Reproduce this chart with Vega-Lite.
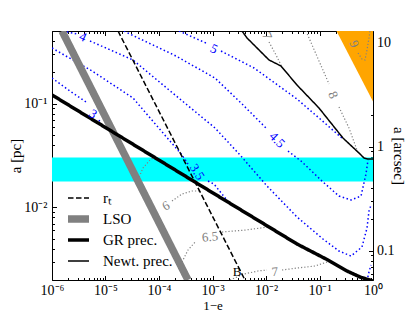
{
  "$schema": "https://vega.github.io/schema/vega-lite/v6.json",
  "width": 321,
  "height": 249,
  "autosize": {"type": "none"},
  "padding": {"left": 52, "top": 31, "right": 42, "bottom": 32},
  "background": "white",
  "config": {
    "view": {"stroke": null},
    "axis": {"grid": false, "domainColor": "#000", "domainWidth": 1, "tickColor": "#000", "tickWidth": 1, "labelColor": "#000", "titleColor": "#000", "labelFont": "Liberation Serif", "titleFont": "Liberation Serif", "labelFontSize": 14, "titleFontSize": 15, "titleFontWeight": "normal", "labelFlush": false, "labelOverlap": false, "labelBound": false}
  },
  "datasets": {
    "band": [{"x": 1e-6, "x2": 1, "y": 0.01778, "y2": 0.03027}],
    "orange": [{"x": 0.208, "y": 0.5, "y2": 0.5}, {"x": 1, "y": 0.1047, "y2": 0.5}],
    "lines": [
      {"series": "rₜ", "x": 1.714e-5, "y": 0.5},
      {"series": "rₜ", "x": 4.046e-3, "y": 0.002},
      {"series": "LSO", "x": 1.538e-6, "y": 0.5},
      {"series": "LSO", "x": 3.483e-4, "y": 0.002},
      {"series": "GR prec.", "x": 1e-6, "y": 0.1211},
      {"series": "GR prec.", "x": 1.021e-3, "y": 0.01377},
      {"series": "GR prec.", "x": 0.03793, "y": 0.004446},
      {"series": "GR prec.", "x": 0.1442, "y": 0.003112},
      {"series": "GR prec.", "x": 0.3266, "y": 0.002443},
      {"series": "GR prec.", "x": 0.5715, "y": 0.002138},
      {"series": "GR prec.", "x": 1, "y": 0.001954},
      {"series": "Newt. prec.", "x": 3.556e-3, "y": 0.5},
      {"series": "Newt. prec.", "x": 4.416e-3, "y": 0.4285},
      {"series": "Newt. prec.", "x": 0.01138, "y": 0.263},
      {"series": "Newt. prec.", "x": 0.01905, "y": 0.2301},
      {"series": "Newt. prec.", "x": 0.03793, "y": 0.151},
      {"series": "Newt. prec.", "x": 0.09795, "y": 0.09057},
      {"series": "Newt. prec.", "x": 0.2748, "y": 0.04656},
      {"series": "Newt. prec.", "x": 0.547, "y": 0.03342},
      {"series": "Newt. prec.", "x": 0.6792, "y": 0.02992},
      {"series": "Newt. prec.", "x": 0.8072, "y": 0.02924},
      {"series": "Newt. prec.", "x": 1, "y": 0.02924}
    ],
    "blue": [
      {"seg": "3a", "x": 1e-6, "y": 0.1762},
      {"seg": "3a", "x": 2.168e-6, "y": 0.1321},
      {"seg": "3a", "x": 4.325e-6, "y": 0.1036},
      {"seg": "3b", "x": 7.568e-6, "y": 0.0695},
      {"seg": "3b", "x": 8.24e-6, "y": 0.0635},
      {"seg": "35a", "x": 1e-6, "y": 0.3428},
      {"seg": "35a", "x": 5.598e-6, "y": 0.2061},
      {"seg": "35a", "x": 3.266e-5, "y": 0.1132},
      {"seg": "35a", "x": 9.183e-5, "y": 0.06081},
      {"seg": "35a", "x": 2.692e-4, "y": 0.03199},
      {"seg": "35a", "x": 3.483e-4, "y": 0.02618},
      {"seg": "35b", "x": 8.24e-4, "y": 0.01795},
      {"seg": "35b", "x": 1.067e-3, "y": 0.01679},
      {"seg": "35b", "x": 1.786e-3, "y": 0.01205},
      {"seg": "35c", "x": 0.7727, "y": 0.001954},
      {"seg": "35c", "x": 0.8414, "y": 0.002388},
      {"seg": "35c", "x": 0.9183, "y": 0.002786},
      {"seg": "4a", "x": 1.607e-6, "y": 0.5},
      {"seg": "4a", "x": 2.931e-6, "y": 0.4677},
      {"seg": "4b", "x": 5.129e-6, "y": 0.4009},
      {"seg": "4b", "x": 3.266e-5, "y": 0.263},
      {"seg": "4b", "x": 1.991e-4, "y": 0.1211},
      {"seg": "4b", "x": 1.114e-3, "y": 0.05821},
      {"seg": "4b", "x": 3.266e-3, "y": 0.03199},
      {"seg": "4b", "x": 0.01045, "y": 0.01607},
      {"seg": "4b", "x": 0.03793, "y": 0.008091},
      {"seg": "4b", "x": 0.1161, "y": 0.004966},
      {"seg": "4b", "x": 0.2312, "y": 0.003802},
      {"seg": "4b", "x": 0.3882, "y": 0.003404},
      {"seg": "4b", "x": 0.6223, "y": 0.004159},
      {"seg": "4b", "x": 0.7727, "y": 0.006339},
      {"seg": "4b", "x": 0.8414, "y": 0.009226},
      {"seg": "4b", "x": 0.9183, "y": 0.01054},
      {"seg": "45a", "x": 2.218e-5, "y": 0.5},
      {"seg": "45a", "x": 3.126e-5, "y": 0.4571},
      {"seg": "45a", "x": 1.905e-4, "y": 0.2938},
      {"seg": "45a", "x": 1.114e-3, "y": 0.1762},
      {"seg": "45a", "x": 3.412e-3, "y": 0.1014},
      {"seg": "45a", "x": 0.01, "y": 0.05821},
      {"seg": "45b", "x": 0.02576, "y": 0.03491},
      {"seg": "45b", "x": 0.04508, "y": 0.02799},
      {"seg": "45b", "x": 0.1161, "y": 0.01758},
      {"seg": "45b", "x": 0.2312, "y": 0.01288},
      {"seg": "45b", "x": 0.3882, "y": 0.01178},
      {"seg": "45b", "x": 0.597, "y": 0.01288},
      {"seg": "45b", "x": 0.7396, "y": 0.02099},
      {"seg": "45b", "x": 0.8072, "y": 0.02864},
      {"seg": "5a", "x": 2.366e-4, "y": 0.5},
      {"seg": "5a", "x": 8.24e-4, "y": 0.375},
      {"seg": "5b", "x": 1.442e-3, "y": 0.3206},
      {"seg": "5b", "x": 5.97e-3, "y": 0.2203},
      {"seg": "5b", "x": 0.03793, "y": 0.1107},
      {"seg": "5b", "x": 0.09795, "y": 0.07261},
      {"seg": "5b", "x": 0.2748, "y": 0.0456}
    ],
    "gray": [
      {"seg": "6a", "x": 4.046e-5, "y": 0.01837},
      {"seg": "6a", "x": 5.023e-5, "y": 0.02399},
      {"seg": "6a", "x": 6.792e-5, "y": 0.02864},
      {"seg": "6a", "x": 8.79e-5, "y": 0.03126},
      {"seg": "6b", "x": 1.75e-4, "y": 0.01153},
      {"seg": "6b", "x": 2.692e-4, "y": 0.01346},
      {"seg": "6b", "x": 4.14e-4, "y": 0.01439},
      {"seg": "6b", "x": 5.598e-4, "y": 0.01439},
      {"seg": "65a", "x": 2.692e-4, "y": 0.002979},
      {"seg": "65a", "x": 3.483e-4, "y": 0.00389},
      {"seg": "65a", "x": 4.92e-4, "y": 0.004742},
      {"seg": "65b", "x": 1.507e-3, "y": 0.005794},
      {"seg": "65b", "x": 4.046e-3, "y": 0.006053},
      {"seg": "65b", "x": 0.01089, "y": 0.006471},
      {"seg": "7a", "x": 2.123e-3, "y": 0.002},
      {"seg": "7a", "x": 3.882e-3, "y": 0.002286},
      {"seg": "7a", "x": 7.079e-3, "y": 0.002443},
      {"seg": "7a", "x": 0.01045, "y": 0.002495},
      {"seg": "7b", "x": 0.01991, "y": 0.002495},
      {"seg": "7b", "x": 0.03793, "y": 0.002606},
      {"seg": "7b", "x": 0.08241, "y": 0.002729},
      {"seg": "7b", "x": 0.157, "y": 0.003048},
      {"seg": "7c", "x": 0.01138, "y": 0.3917},
      {"seg": "7c", "x": 0.01538, "y": 0.2938},
      {"seg": "7c", "x": 0.01991, "y": 0.2249},
      {"seg": "8a", "x": 0.05598, "y": 0.5},
      {"seg": "8a", "x": 0.09795, "y": 0.257},
      {"seg": "8a", "x": 0.1507, "y": 0.1545},
      {"seg": "8b", "x": 0.2312, "y": 0.09268},
      {"seg": "8b", "x": 0.3556, "y": 0.05821},
      {"seg": "8b", "x": 0.5248, "y": 0.03342},
      {"seg": "9", "x": 0.5248, "y": 0.3069},
      {"seg": "9", "x": 0.6223, "y": 0.2685},
      {"seg": "9", "x": 0.7079, "y": 0.263},
      {"seg": "9", "x": 0.7727, "y": 0.3281},
      {"seg": "9", "x": 0.8414, "y": 0.4285},
      {"seg": "9", "x": 0.879, "y": 0.5}
    ],
    "clab": [
      {"name": "3", "t": "3", "x": 5.834e-6, "y": 0.07943},
      {"name": "3.5", "t": "3.5", "x": 5.129e-4, "y": 0.02193},
      {"name": "4", "t": "4", "x": 3.793e-6, "y": 0.4375},
      {"name": "4.5", "t": "4.5", "x": 0.01607, "y": 0.04457},
      {"name": "5", "t": "5", "x": 1.067e-3, "y": 0.3357},
      {"name": "6", "t": "6", "x": 1.352e-4, "y": 0.01033},
      {"name": "6.5", "t": "6.5", "x": 8.974e-4, "y": 0.005188},
      {"name": "7 low", "t": "7", "x": 0.01472, "y": 0.002388},
      {"name": "7 high", "t": "7", "x": 0.01045, "y": 0.4477},
      {"name": "8", "t": "8", "x": 0.1786, "y": 0.1211},
      {"name": "9", "t": "9", "x": 0.4416, "y": 0.375},
      {"name": "B", "t": "B", "x": 2.871e-3, "y": 0.002388}
    ]
  },
  "layer": [
    {
      "data": {"name": "band"},
      "mark": {"type": "rect", "color": "#00ffff", "clip": true},
      "encoding": {
        "x": {"field": "x", "type": "quantitative",
          "scale": {"type": "log", "domain": [1e-6, 1], "nice": false},
          "axis": {"orient": "bottom", "title": "1−e", "titleFontSize": 13, "titleBaseline": "alphabetic", "titleY": 29,
            "values": [1e-6,2e-6,3e-6,4e-6,5e-6,6e-6,7e-6,8e-6,9e-6,1e-5,2e-5,3e-5,4e-5,5e-5,6e-5,7e-5,8e-5,9e-5,1e-4,2e-4,3e-4,4e-4,5e-4,6e-4,7e-4,8e-4,9e-4,0.001,0.002,0.003,0.004,0.005,0.006,0.007,0.008,0.009,0.01,0.02,0.03,0.04,0.05,0.06,0.07,0.08,0.09,0.1,0.2,0.3,0.4,0.5,0.6,0.7,0.8,0.9,1],
            "labelExpr": "abs(log(datum.value)/LN10 - round(log(datum.value)/LN10)) < 0.001 ? ['10⁰','10⁻¹','10⁻²','10⁻³','10⁻⁴','10⁻⁵','10⁻⁶'][-round(log(datum.value)/LN10)] : ''",
            "tickSize": {"condition": {"test": "abs(log(datum.value)/LN10 - round(log(datum.value)/LN10)) < 0.001", "value": -4.5}, "value": -2.5},
            "labelPadding": 8}},
        "x2": {"field": "x2"},
        "y": {"field": "y", "type": "quantitative",
          "scale": {"type": "log", "domain": [0.002, 0.5], "nice": false},
          "axis": {"orient": "left", "title": "a [pc]", "titleBaseline": "middle", "titleX": -37, "titleY": 124.5,
            "values": [0.002,0.003,0.004,0.005,0.006,0.007,0.008,0.009,0.01,0.02,0.03,0.04,0.05,0.06,0.07,0.08,0.09,0.1,0.2,0.3,0.4,0.5],
            "labelExpr": "abs(log(datum.value)/LN10 - round(log(datum.value)/LN10)) < 0.001 ? ['10⁰','10⁻¹','10⁻²','10⁻³'][-round(log(datum.value)/LN10)] : ''",
            "tickSize": {"condition": {"test": "abs(log(datum.value)/LN10 - round(log(datum.value)/LN10)) < 0.001", "value": -4.5}, "value": -2.5},
            "labelPadding": 9.5}},
        "y2": {"field": "y2"}
      }
    },
    {
      "data": {"name": "orange"},
      "mark": {"type": "area", "color": "#ffa500", "clip": true},
      "encoding": {
        "x": {"field": "x", "type": "quantitative", "scale": {"type": "log", "domain": [1e-6, 1], "nice": false}, "axis": null},
        "y": {"field": "y", "type": "quantitative", "scale": {"type": "log", "domain": [0.002, 0.5], "nice": false}, "axis": null},
        "y2": {"field": "y2"}
      }
    },
    {
      "data": {"name": "blue"},
      "mark": {"type": "line", "color": "#0000ff", "strokeWidth": 1.5, "strokeDash": [1.5, 2.5], "clip": true},
      "encoding": {
        "x": {"field": "x", "type": "quantitative", "scale": {"type": "log", "domain": [1e-6, 1], "nice": false}, "axis": null},
        "y": {"field": "y", "type": "quantitative", "scale": {"type": "log", "domain": [0.002, 0.5], "nice": false}, "axis": null},
        "detail": {"field": "seg"}
      }
    },
    {
      "data": {"name": "gray"},
      "mark": {"type": "line", "color": "#808080", "strokeWidth": 1.2, "strokeDash": [1.2, 2], "clip": true},
      "encoding": {
        "x": {"field": "x", "type": "quantitative", "scale": {"type": "log", "domain": [1e-6, 1], "nice": false}, "axis": null},
        "y": {"field": "y", "type": "quantitative", "scale": {"type": "log", "domain": [0.002, 0.5], "nice": false}, "axis": null},
        "detail": {"field": "seg"}
      }
    },
    {
      "data": {"name": "lines"},
      "mark": {"type": "line", "clip": true},
      "encoding": {
        "x": {"field": "x", "type": "quantitative", "scale": {"type": "log", "domain": [1e-6, 1], "nice": false}, "axis": null},
        "y": {"field": "y", "type": "quantitative", "scale": {"type": "log", "domain": [0.002, 0.5], "nice": false}, "axis": null},
        "color": {"field": "series", "type": "nominal",
          "scale": {"domain": ["rₜ", "LSO", "GR prec.", "Newt. prec."], "range": ["#000000", "#808080", "#000000", "#000000"]},
          "legend": {"title": null, "orient": "none", "legendX": 12, "legendY": 156.75, "padding": 0, "rowPadding": 0, "clipHeight": 20.5, "symbolSize": 441, "symbolType": "stroke", "labelFont": "Liberation Serif", "labelFontSize": 15, "labelColor": "#000", "labelOffset": 10, "labelLimit": 200}},
        "strokeDash": {"field": "series", "type": "nominal",
          "scale": {"domain": ["rₜ", "LSO", "GR prec.", "Newt. prec."], "range": [[5.5, 2.5], [1, 0], [1, 0], [1, 0]]}},
        "strokeWidth": {"field": "series", "type": "nominal",
          "scale": {"type": "ordinal", "domain": ["rₜ", "LSO", "GR prec.", "Newt. prec."], "range": [1.5, 7.5, 3.5, 1.5]}}
      }
    },
    {
      "data": {"name": "clab"},
      "transform": [{"filter": {"field": "name", "oneOf": ["4", "5"]}}],
      "mark": {"type": "text", "angle": 25, "font": "Liberation Serif", "fontSize": 13, "color": "#0000ff", "clip": true},
      "encoding": {
        "x": {"field": "x", "type": "quantitative", "scale": {"type": "log", "domain": [1e-6, 1], "nice": false}, "axis": null},
        "y": {"field": "y", "type": "quantitative", "scale": {"type": "log", "domain": [0.002, 0.5], "nice": false}, "axis": null},
        "text": {"field": "t"}
      }
    },
    {
      "data": {"name": "clab"},
      "transform": [{"filter": {"field": "name", "oneOf": ["3"]}}],
      "mark": {"type": "text", "angle": 35, "font": "Liberation Serif", "fontSize": 13, "color": "#0000ff", "clip": true},
      "encoding": {
        "x": {"field": "x", "type": "quantitative", "scale": {"type": "log", "domain": [1e-6, 1], "nice": false}, "axis": null},
        "y": {"field": "y", "type": "quantitative", "scale": {"type": "log", "domain": [0.002, 0.5], "nice": false}, "axis": null},
        "text": {"field": "t"}
      }
    },
    {
      "data": {"name": "clab"},
      "transform": [{"filter": {"field": "name", "oneOf": ["4.5"]}}],
      "mark": {"type": "text", "angle": 45, "font": "Liberation Serif", "fontSize": 13, "color": "#0000ff", "clip": true},
      "encoding": {
        "x": {"field": "x", "type": "quantitative", "scale": {"type": "log", "domain": [1e-6, 1], "nice": false}, "axis": null},
        "y": {"field": "y", "type": "quantitative", "scale": {"type": "log", "domain": [0.002, 0.5], "nice": false}, "axis": null},
        "text": {"field": "t"}
      }
    },
    {
      "data": {"name": "clab"},
      "transform": [{"filter": {"field": "name", "oneOf": ["3.5"]}}],
      "mark": {"type": "text", "angle": 58, "font": "Liberation Serif", "fontSize": 13, "color": "#0000ff", "clip": true},
      "encoding": {
        "x": {"field": "x", "type": "quantitative", "scale": {"type": "log", "domain": [1e-6, 1], "nice": false}, "axis": null},
        "y": {"field": "y", "type": "quantitative", "scale": {"type": "log", "domain": [0.002, 0.5], "nice": false}, "axis": null},
        "text": {"field": "t"}
      }
    },
    {
      "data": {"name": "clab"},
      "transform": [{"filter": {"field": "name", "oneOf": ["6"]}}],
      "mark": {"type": "text", "angle": -28, "font": "Liberation Serif", "fontSize": 13, "color": "#808080", "clip": true},
      "encoding": {
        "x": {"field": "x", "type": "quantitative", "scale": {"type": "log", "domain": [1e-6, 1], "nice": false}, "axis": null},
        "y": {"field": "y", "type": "quantitative", "scale": {"type": "log", "domain": [0.002, 0.5], "nice": false}, "axis": null},
        "text": {"field": "t"}
      }
    },
    {
      "data": {"name": "clab"},
      "transform": [{"filter": {"field": "name", "oneOf": ["6.5", "7 low"]}}],
      "mark": {"type": "text", "angle": -5, "font": "Liberation Serif", "fontSize": 13, "color": "#808080", "clip": true},
      "encoding": {
        "x": {"field": "x", "type": "quantitative", "scale": {"type": "log", "domain": [1e-6, 1], "nice": false}, "axis": null},
        "y": {"field": "y", "type": "quantitative", "scale": {"type": "log", "domain": [0.002, 0.5], "nice": false}, "axis": null},
        "text": {"field": "t"}
      }
    },
    {
      "data": {"name": "clab"},
      "transform": [{"filter": {"field": "name", "oneOf": ["7 high", "8", "9"]}}],
      "mark": {"type": "text", "angle": 68, "font": "Liberation Serif", "fontSize": 13, "color": "#808080", "clip": true},
      "encoding": {
        "x": {"field": "x", "type": "quantitative", "scale": {"type": "log", "domain": [1e-6, 1], "nice": false}, "axis": null},
        "y": {"field": "y", "type": "quantitative", "scale": {"type": "log", "domain": [0.002, 0.5], "nice": false}, "axis": null},
        "text": {"field": "t"}
      }
    },
    {
      "data": {"name": "clab"},
      "transform": [{"filter": {"field": "name", "oneOf": ["B"]}}],
      "mark": {"type": "text", "font": "Liberation Serif", "fontSize": 13, "color": "#000000", "clip": true},
      "encoding": {
        "x": {"field": "x", "type": "quantitative", "scale": {"type": "log", "domain": [1e-6, 1], "nice": false}, "axis": null},
        "y": {"field": "y", "type": "quantitative", "scale": {"type": "log", "domain": [0.002, 0.5], "nice": false}, "axis": null},
        "text": {"field": "t"}
      }
    },
    {
      "data": {"values": [{"x": 0.001, "arc": 1}]},
      "mark": {"type": "point", "opacity": 0},
      "encoding": {
        "x": {"field": "x", "type": "quantitative",
          "scale": {"type": "log", "domain": [1e-6, 1], "nice": false},
          "axis": {"orient": "top", "title": null, "labels": false,
            "values": [1e-6,2e-6,3e-6,4e-6,5e-6,6e-6,7e-6,8e-6,9e-6,1e-5,2e-5,3e-5,4e-5,5e-5,6e-5,7e-5,8e-5,9e-5,1e-4,2e-4,3e-4,4e-4,5e-4,6e-4,7e-4,8e-4,9e-4,0.001,0.002,0.003,0.004,0.005,0.006,0.007,0.008,0.009,0.01,0.02,0.03,0.04,0.05,0.06,0.07,0.08,0.09,0.1,0.2,0.3,0.4,0.5,0.6,0.7,0.8,0.9,1],
            "tickSize": {"condition": {"test": "abs(log(datum.value)/LN10 - round(log(datum.value)/LN10)) < 0.001", "value": -4.5}, "value": -2.5}}},
        "y": {"field": "arc", "type": "quantitative",
          "scale": {"type": "log", "domain": [0.052, 13], "nice": false},
          "axis": {"orient": "right", "title": "a [arcsec]", "titleBaseline": "middle", "titleX": 25, "titleY": 124.5,
            "values": [0.06,0.07,0.08,0.09,0.1,0.2,0.3,0.4,0.5,0.6,0.7,0.8,0.9,1,2,3,4,5,6,7,8,9,10],
            "labelExpr": "abs(log(datum.value)/LN10 - round(log(datum.value)/LN10)) < 0.001 ? (datum.value < 0.5 ? '0.1' : datum.value < 5 ? '1' : '10') : ''",
            "tickSize": {"condition": {"test": "abs(log(datum.value)/LN10 - round(log(datum.value)/LN10)) < 0.001", "value": -4.5}, "value": -2.5},
            "labelPadding": 8}}
      }
    }
  ],
  "resolve": {"scale": {"y": "independent"}, "axis": {"x": "independent"}}
}
